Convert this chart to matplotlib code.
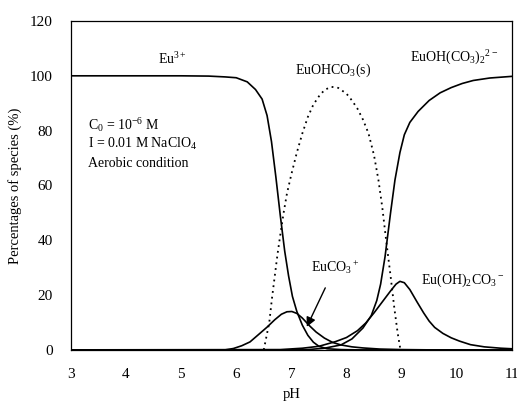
import matplotlib
matplotlib.use("Agg")
import matplotlib.pyplot as plt

plt.rcParams["font.family"] = ["Liberation Serif", "DejaVu Serif"]
plt.rcParams["mathtext.fontset"] = "custom"
plt.rcParams["mathtext.rm"] = "Liberation Serif"
plt.rcParams["mathtext.it"] = "Liberation Serif:italic"

# species distribution
ph_eu3 = [3, 4, 5, 5.5, 5.8, 6.0, 6.2, 6.35, 6.47, 6.56, 6.64, 6.72, 6.8,
          6.88, 6.95, 7.02, 7.1, 7.2, 7.3, 7.4, 7.5, 7.65, 7.9, 8.2, 11]
eu3 = [100, 100, 100, 99.9, 99.6, 99.3, 97.8, 95, 91.5, 85.5, 76, 63, 49,
       36, 27, 19.5, 14, 9, 5.3, 2.8, 1.3, 0.4, 0.1, 0, 0]

ph_euco3 = [3, 5.8, 5.95, 6.1, 6.25, 6.4, 6.56, 6.7, 6.82, 6.92, 7.01, 7.1,
            7.2, 7.34, 7.45, 7.6, 7.75, 7.9, 8.1, 8.3, 8.6, 9.0, 9.5, 11]
euco3 = [0, 0, 0.5, 1.5, 2.9, 5.5, 8.3, 11, 13, 13.9, 14, 13.3,
         11.6, 8.6, 6.5, 4.3, 2.7, 1.8, 1.1, 0.7, 0.3, 0.1, 0, 0]

ph_solid = [6.5, 6.55, 6.6, 6.65, 6.7, 6.75, 6.8, 6.86, 6.92, 7.0, 7.1, 7.2,
            7.3, 7.4, 7.5, 7.6, 7.72, 7.85, 8.0, 8.1, 8.2, 8.3, 8.4, 8.5,
            8.58, 8.65, 8.72, 8.8, 8.87, 8.93, 8.98]
solid = [0, 5, 10, 19, 27, 35, 42, 50, 57, 64, 72, 79,
         85, 89.5, 92.5, 94.8, 96, 95.6, 93.5, 91, 88, 84, 79, 71,
         62, 52, 40, 27, 15, 6, 0]

ph_oh2 = [3, 6.8, 7.2, 7.5, 7.8, 8.0, 8.2, 8.35, 8.5, 8.65, 8.8, 8.9, 8.97,
          9.05, 9.15, 9.28, 9.4, 9.5, 9.6, 9.75, 9.9, 10.05, 10.25, 10.5,
          10.8, 11]
oh2 = [0, 0.1, 0.6, 1.3, 3, 4.5, 7, 9.8, 13.5, 17.5, 21.5, 24, 25,
       24.5, 22, 17.5, 13.5, 10.5, 8.2, 6, 4.4, 3.2, 1.9, 1.1,
       0.6, 0.4]

ph_ohco32 = [3, 7.0, 7.3, 7.6, 7.9, 8.1, 8.3, 8.45, 8.55, 8.62, 8.7, 8.8,
             8.88, 8.97, 9.05, 9.15, 9.3, 9.5, 9.7, 9.9, 10.1, 10.3, 10.6, 11]
ohco32 = [0, 0, 0.1, 0.6, 1.8, 4, 8, 12.5, 18, 24, 34, 50,
          62, 72, 78.5, 83, 87, 91, 93.8, 95.7, 97.2, 98.3, 99.2, 99.8]

fig = plt.figure(figsize=(5.17, 4.04), dpi=100)
ax = fig.add_axes([0.137, 0.134, 0.853, 0.814])

lw = 1.2
ax.plot(ph_eu3, eu3, color="black", lw=lw)
ax.plot(ph_euco3, euco3, color="black", lw=lw)
ax.plot(ph_oh2, oh2, color="black", lw=lw)
ax.plot(ph_ohco32, ohco32, color="black", lw=lw)
ax.plot(ph_solid, solid, color="black", lw=1.3, linestyle=(0, (1, 2.2)))

ax.set_xlim(3, 11)
ax.set_ylim(0, 120)
ax.set_xticks(range(3, 12))
ax.set_yticks(range(0, 121, 20))
ax.tick_params(length=0, labelsize=11, colors="black")
ax.tick_params(axis="x", pad=13)
ax.tick_params(axis="y", pad=13)
for s in ax.spines.values():
    s.set_linewidth(0.9)

ax.set_xlabel("pH", fontsize=10.5, labelpad=5)
ax.set_ylabel("Percentages of species (%)", fontsize=10.5, labelpad=6)

fs = 10
ax.text(4.85, 106, "Eu$^{3+}$", fontsize=fs, ha="center", va="center")
ax.text(7.75, 102, "EuOHCO$_3$(s)", fontsize=fs, ha="center", va="center")
ax.text(9.95, 106.5, "EuOH(CO$_3$)$_2$$^{2-}$", fontsize=fs, ha="center", va="center")
ax.text(3.31, 82, "C$_0$ = 10$^{-6}$ M", fontsize=fs, ha="left", va="center")
ax.text(3.31, 75, "I = 0.01 M NaClO$_4$", fontsize=fs, ha="left", va="center")
ax.text(3.31, 68, "Aerobic condition", fontsize=fs, ha="left", va="center")
ax.text(10.1, 25.5, "Eu(OH)$_2$CO$_3$$^-$", fontsize=fs, ha="center", va="center")
ax.annotate("EuCO$_3$$^+$", xy=(7.28, 8.4), xytext=(7.79, 30), fontsize=fs,
            ha="center", va="center",
            arrowprops=dict(arrowstyle="-|>", color="black", lw=1.0,
                            shrinkA=7, shrinkB=0, mutation_scale=14))

fig.savefig("out.png", dpi=100)
